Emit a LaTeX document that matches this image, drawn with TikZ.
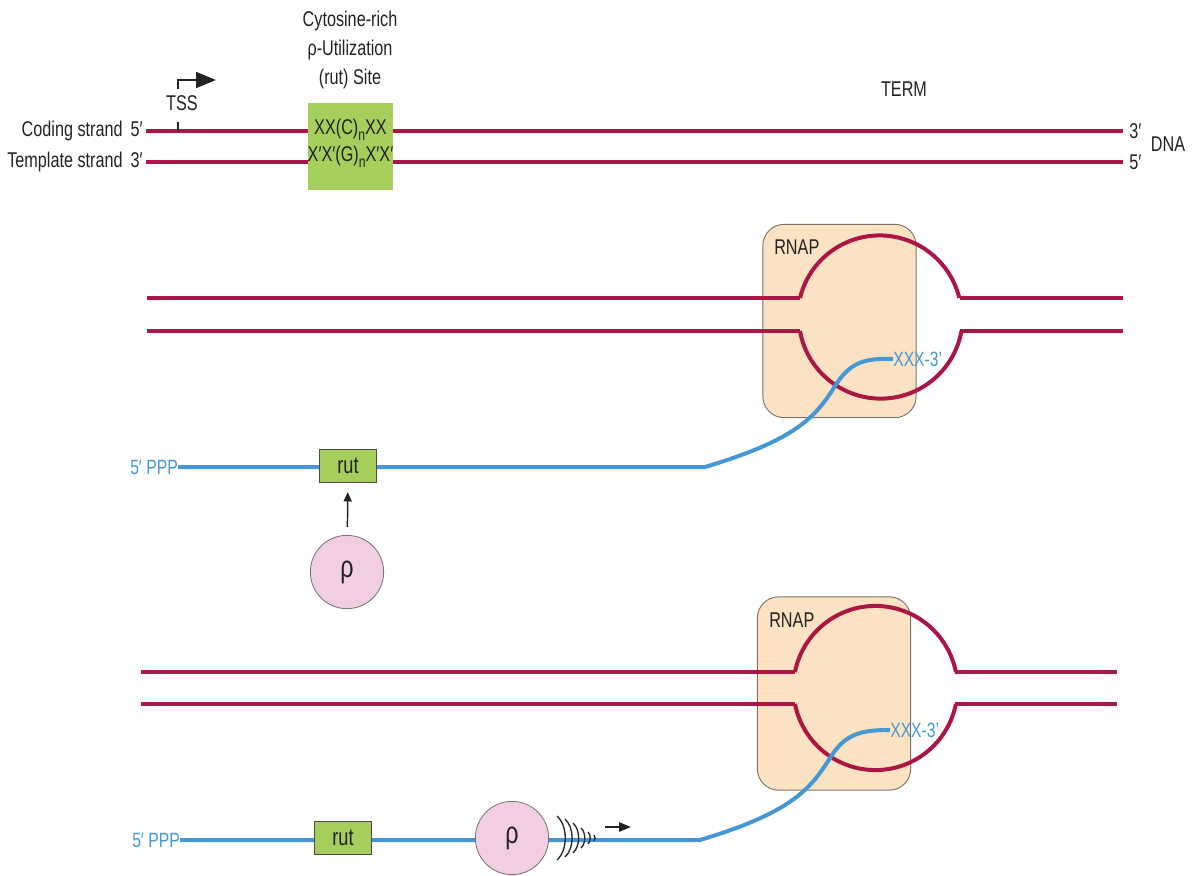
\documentclass[tikz,border=0pt]{standalone}
\usepackage{fontspec}
\setmainfont{Liberation Sans}[FakeStretch=0.76]
\usetikzlibrary{arrows.meta}
\definecolor{dnared}{RGB}{172,22,68}
\definecolor{rnablue}{RGB}{70,152,212}
\definecolor{rutgreen}{RGB}{166,206,92}
\definecolor{rhopink}{RGB}{242,206,226}
\definecolor{peach}{RGB}{250,226,194}
\definecolor{boxgray}{RGB}{125,115,105}
\definecolor{txt}{RGB}{35,35,35}
\begin{document}
\begin{tikzpicture}[x=0.75pt,y=-0.75pt,
  dna/.style={line width=3.6pt,color=dnared},
  bubble/.style={line width=3pt,color=dnared},
  rna/.style={line width=3pt,color=rnablue},
  lbl/.style={font=\fontsize{16}{18}\selectfont,inner sep=0pt,text=txt},
  bluelbl/.style={font=\fontsize{15.5}{18}\selectfont,inner sep=0pt,text=rnablue},
  rnapbox/.style={draw=boxgray,fill=peach,rounded corners=16pt,line width=0.7pt,minimum width=115pt,minimum height=145pt},
  rutbox/.style={draw=black!70,fill=rutgreen,line width=0.7pt,minimum width=43pt,minimum height=24.5pt,inner sep=0pt,font=\fontsize{18}{18}\selectfont,text=txt},
  rhonode/.style={circle,draw=black!55,fill=rhopink,line width=0.6pt,minimum size=55pt,inner sep=0pt,font=\fontsize{23}{24}\selectfont,text=txt},
  wave/.style={line width=1pt,color=black!85}
]
\useasboundingbox (0,0) rectangle (1192,875);

% ---------------- top: DNA ----------------
\node[lbl,anchor=east] (codlbl) at (143,131) {Coding strand\hspace{6pt}5′};
\node[lbl,anchor=east] (tmplbl) at (143,162) {Template strand\hspace{6pt}3′};
\coordinate (c0) at (146,131); \coordinate (c1) at (1123,131);
\coordinate (t0) at (146,162); \coordinate (t1) at (1123,162);
\draw[dna] (c0) -- (c1);
\draw[dna] (t0) -- (t1);
\node[lbl,anchor=west] (c3lbl) at (1129,131) {3′};
\node[lbl,anchor=west] (t5lbl) at (1129,162) {5′};
\node[lbl] (dnalbl) at (1168,144) {DNA};
\node[lbl] (termlbl) at (904,89) {TERM};

\node[fill=rutgreen,minimum width=64pt,minimum height=65pt,inner sep=0pt] (site) at (350.5,146.5) {};
\node[lbl] (siteC) at (350.5,130) {XX(C)\raisebox{-0.5ex}{\fontsize{12}{12}\selectfont n}XX};
\node[lbl] (siteG) at (350.5,157) {X′X′(G)\raisebox{-0.5ex}{\fontsize{12}{12}\selectfont n}X′X′};
\node[lbl,align=center,font=\fontsize{16}{21.5}\selectfont] (sitelbl) at (350,50) {Cytosine-rich\\ρ-Utilization\\(rut) Site};

\node[lbl] (tss) at (182,103) {TSS};
\draw[line width=1.2pt,color=txt] (178,122) -- (178,131);
\draw[line width=1.3pt,color=txt,-{Triangle[length=15pt,width=12pt]}] (178,89) |- (216,80);

% ---------------- middle: RNAP + rho approaching ----------------
\node[rnapbox] (rnap1) at (839.5,321) {};
\node[lbl,anchor=west] (rnap1lbl) at (774,247) {RNAP};
\draw[dna] (147,298) -- (800,298);
\draw[dna] (960,298) -- (1123,298);
\draw[dna] (147,331) -- (800,331);
\draw[dna] (960,331) -- (1123,331);
\draw[bubble] (800,298) arc[start angle=193.7,end angle=346.3,radius=82];
\draw[bubble] (800,331) arc[start angle=169.9,end angle=10.1,radius=82];

\node[bluelbl,anchor=east] (ppp1) at (178,467) {5′ PPP};
\node[bluelbl,anchor=west] (xxx1) at (893,359) {XXX-3'};
\draw[rna] (ppp1.east) -- (705,467) .. controls (795,440) and (815,418) .. (835,386)
  .. controls (850,362) and (865,358) .. (xxx1.west);
\node[rutbox] (rut1) at (348,466) {rut};
\node[rhonode] (rho1) at (347,572) {ρ};
\draw[line width=1.1pt,color=txt,-{Triangle[length=7pt,width=6pt]},shorten <=6pt,shorten >=7pt] (rho1) -- (rut1);

% ---------------- bottom: rho tracking ----------------
\node[rnapbox] (rnap2) at (834,693.5) {};
\node[lbl,anchor=west] (rnap2lbl) at (769,620) {RNAP};
\draw[dna] (141,672) -- (795,672);
\draw[dna] (955,672) -- (1117,672);
\draw[dna] (141,704) -- (795,704);
\draw[dna] (955,704) -- (1117,704);
\draw[bubble] (795,672) arc[start angle=191.2,end angle=348.8,radius=82];
\draw[bubble] (795,704) arc[start angle=168.8,end angle=11.2,radius=82];

\node[bluelbl,anchor=east] (ppp2) at (180,840) {5′ PPP};
\node[bluelbl,anchor=west] (xxx2) at (890,730) {XXX-3'};
\draw[rna] (ppp2.east) -- (700,840) .. controls (790,813) and (810,790) .. (830,758)
  .. controls (845,734) and (860,730) .. (xxx2.west);
\node[rutbox] (rut2) at (343,838) {rut};
\node[rhonode] (rho2) at (512,838) {ρ};
\foreach \x/\h in {557/22,565/19,573/15,581/10,588/6,594/3}
  \draw[wave] (\x,838-\h) .. controls (\x+0.5*\h,838-0.55*\h) and (\x+0.5*\h,838+0.55*\h) .. (\x,838+\h);
\coordinate (mv0) at (605,827); \coordinate (mv1) at (631,827);
\draw[line width=1.3pt,color=txt,-{Triangle[length=9pt,width=7pt]}] (mv0) -- (mv1);
\end{tikzpicture}
\end{document}
